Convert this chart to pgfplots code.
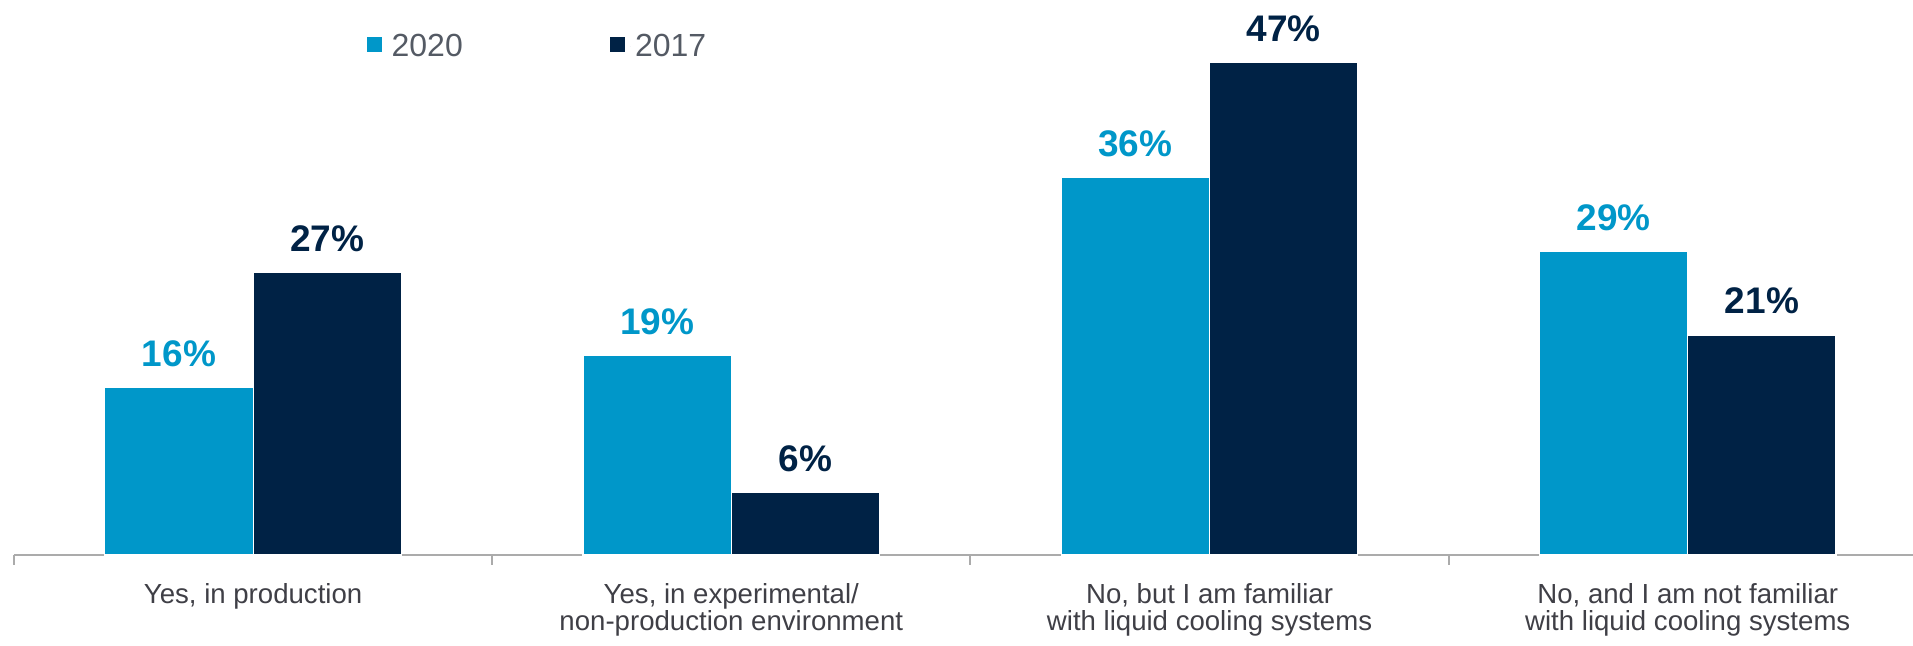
\documentclass[border=0pt]{standalone}
\usepackage{fontspec}
\setmainfont{Liberation Sans}
\usepackage{pgfplots}
\pgfplotsset{compat=1.18}

\definecolor{c2020}{HTML}{0097C9}
\definecolor{c2017}{HTML}{002245}
\definecolor{labelgray}{HTML}{3F3F46}
\definecolor{legendgray}{HTML}{545A64}
\definecolor{axisgray}{HTML}{ABABAB}

\begin{document}
\begin{tikzpicture}
\begin{axis}[
  at={(0,0)}, anchor=south west,
  scale only axis,
  width=949.5pt, height=277.5pt,
  xmin=-0.5, xmax=3.471,
  ymin=0, ymax=52.96,
  axis x line*=bottom,
  axis y line=none,
  ytick=\empty,
  xtick={0,1,2,3},
  xticklabels={
    {Yes, in production},
    {Yes, in experimental/\\non-production environment},
    {No, but I am familiar\\with liquid cooling systems},
    {No, and I am not familiar\\with liquid cooling systems}},
  minor xtick={-0.5,0.5,1.5,2.5},
  major tick length=0pt,
  minor tick length=5pt,
  tick align=outside,
  minor tick style={color=axisgray, line width=1pt},
  axis line style={color=axisgray, line width=1pt},
  xticklabel style={font=\fontsize{13.8}{13.8}\selectfont, align=center,
    text=labelgray, anchor=north, yshift=-10.5pt},
  /pgf/number format/assume math mode=true,
  ybar=0pt,
  bar width=0.31,
  nodes near coords={\pgfmathprintnumber{\pgfplotspointmeta}\%},
  every node near coord/.append style={font=\fontsize{18.5}{18.5}\selectfont\bfseries,
    inner sep=0pt, anchor=base, yshift=10.5pt},
  legend columns=2,
  legend style={draw=none, fill=none, inner sep=0pt,
    at={(axis description cs:0.1854,0.9159)}, anchor=west,
    font=\fontsize{16}{16}\selectfont, text=legendgray,
    /tikz/every even column/.append style={column sep=71.5pt}},
  legend image code/.code={\path (0pt,0pt) -- (10pt,0pt);
    \fill[#1, draw=none] (0pt,-2.5pt) rectangle (7.5pt,5pt);},
  clip=false,
]
\addplot[fill=c2020, draw=white, line width=0.6pt, text=c2020]
  coordinates {(0,16) (1,19) (2,36) (3,29)};
\addplot[fill=c2017, draw=white, line width=0.6pt, text=c2017]
  coordinates {(0,27) (1,6) (2,47) (3,21)};
\legend{2020, 2017}
\end{axis}
\pgfresetboundingbox
\path (-7pt,-45.5pt) rectangle (949.5pt,277.5pt);
\end{tikzpicture}
\end{document}
